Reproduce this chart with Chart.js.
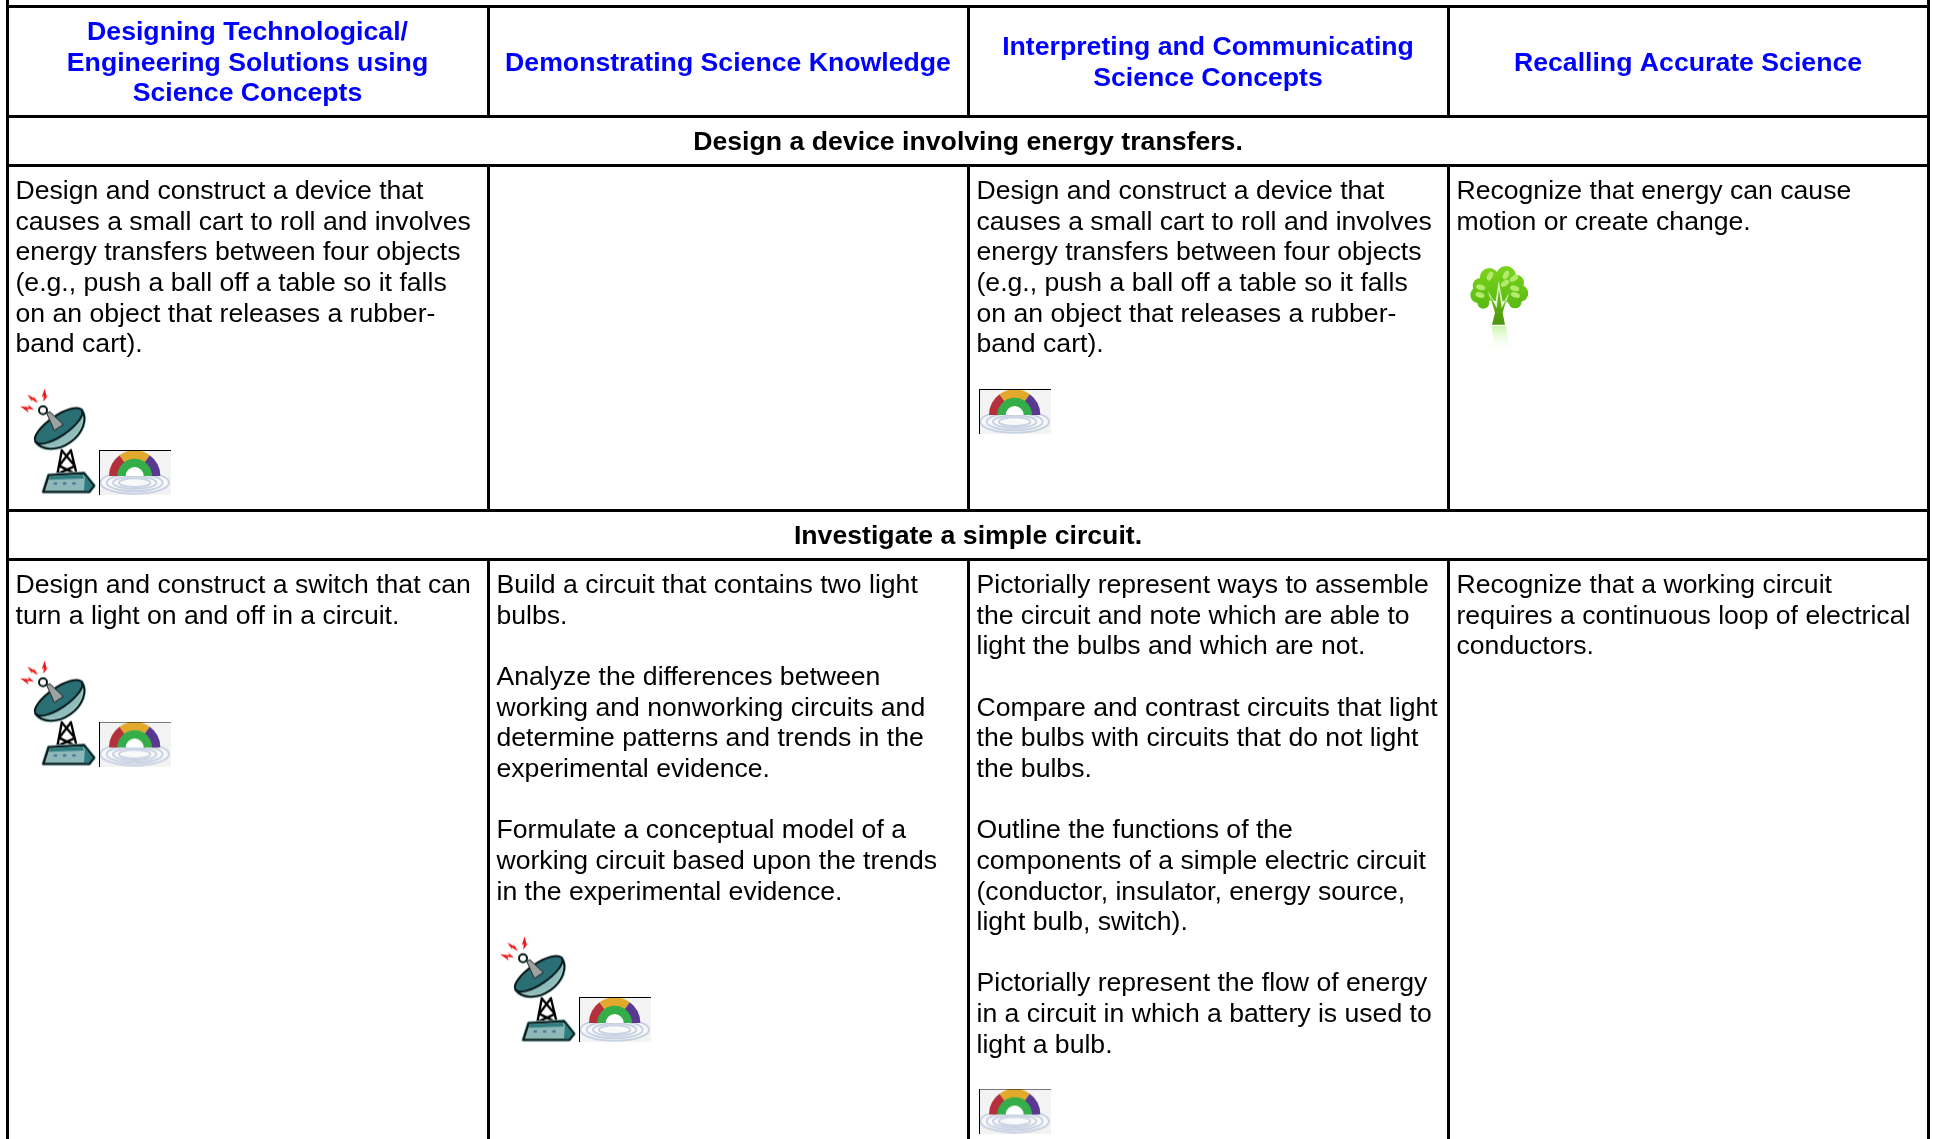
<!DOCTYPE html>
<html>
<head>
<meta charset="utf-8">
<title>Science concepts table</title>
<script src="https://cdn.jsdelivr.net/npm/chart.js@4"></script>
<style>
    html, body { margin: 0; padding: 0; background: #fff; overflow: hidden; }
    canvas { display: block; }
</style>
</head>
<body>
<canvas id="tableChart" width="1933" height="1139"></canvas>
<script>
const columnEdges = [7.5, 488.5, 968.5, 1448.5, 1928.5];
const rowEdges = [6.5, 116.5, 165.5, 510.5, 559.5];
const tableBottom = 1139;

const columnHeads = [
    ['Designing Technological/', 'Engineering Solutions using', 'Science Concepts'],
    ['Demonstrating Science Knowledge'],
    ['Interpreting and Communicating', 'Science Concepts'],
    ['Recalling Accurate Science']
];
const sectionTitles = ['Design a device involving energy transfers.', 'Investigate a simple circuit.'];

const deviceCells = [
    ['Design and construct a device that', 'causes a small cart to roll and involves', 'energy transfers between four objects', '(e.g., push a ball off a table so it falls', 'on an object that releases a rubber-', 'band cart).'],
    [],
    ['Design and construct a device that', 'causes a small cart to roll and involves', 'energy transfers between four objects', '(e.g., push a ball off a table so it falls', 'on an object that releases a rubber-', 'band cart).'],
    ['Recognize that energy can cause', 'motion or create change.']
];
const circuitCells = [
    ['Design and construct a switch that can', 'turn a light on and off in a circuit.'],
    ['Build a circuit that contains two light', 'bulbs.', '', 'Analyze the differences between', 'working and nonworking circuits and', 'determine patterns and trends in the', 'experimental evidence.', '', 'Formulate a conceptual model of a', 'working circuit based upon the trends', 'in the experimental evidence.'],
    ['Pictorially represent ways to assemble', 'the circuit and note which are able to', 'light the bulbs and which are not.', '', 'Compare and contrast circuits that light', 'the bulbs with circuits that do not light', 'the bulbs.', '', 'Outline the functions of the', 'components of a simple electric circuit', '(conductor, insulator, energy source,', 'light bulb, switch).', '', 'Pictorially represent the flow of energy', 'in a circuit in which a battery is used to', 'light a bulb.'],
    ['Recognize that a working circuit', 'requires a continuous loop of electrical', 'conductors.']
];

// icon centres, same units as the edges above
const dishSpots = [{x: 58, y: 441.5}, {x: 58, y: 713.5}, {x: 538, y: 989.5}];
const gaugeSpots = [{x: 135, y: 472.5}, {x: 1015, y: 411.5}, {x: 135, y: 744}, {x: 615, y: 1019.5}, {x: 1015, y: 1111}];
const treeSpots = [{x: 1499, y: 308.5}];

const lineHeight = 30.65;
const cellPad = 8;
const blue = '#0000ff';

function iconCanvas(w, h, draw) {
    const c = document.createElement('canvas');
    c.width = w;
    c.height = h;
    const ctx = c.getContext('2d');
    ctx.lineJoin = 'round';
    ctx.filter = 'blur(0.4px)';
    draw(ctx);
    return c;
}

function poly(ctx, pts, fill, stroke, width) {
    ctx.beginPath();
    pts.forEach((p, i) => i ? ctx.lineTo(p[0], p[1]) : ctx.moveTo(p[0], p[1]));
    ctx.closePath();
    if (fill) { ctx.fillStyle = fill; ctx.fill(); }
    if (stroke) { ctx.strokeStyle = stroke; ctx.lineWidth = width; ctx.stroke(); }
}

function drawDish(ctx) {
    ctx.scale(1 / 3, 1 / 3);
    ctx.translate(-60, -55);
    // sparks
    poly(ctx, [[82, 76], [104, 88], [100, 78], [114, 102], [94, 90], [98, 100]], '#f01818');
    poly(ctx, [[134, 58], [140, 82], [146, 76], [130, 98], [131, 80], [125, 84]], '#f01818');
    poly(ctx, [[60, 111], [88, 114], [84, 106], [102, 122], [82, 119], [86, 130]], '#f01818');
    // tower
    ctx.strokeStyle = '#000';
    ctx.lineWidth = 7;
    ctx.beginPath();
    ctx.moveTo(186, 240); ctx.lineTo(172, 315);
    ctx.moveTo(212, 240); ctx.lineTo(230, 315);
    ctx.moveTo(186, 245); ctx.lineTo(226, 292);
    ctx.moveTo(212, 245); ctx.lineTo(176, 292);
    ctx.moveTo(178, 290); ctx.lineTo(228, 315);
    ctx.moveTo(226, 290); ctx.lineTo(172, 315);
    ctx.stroke();
    // base
    poly(ctx, [[146, 318], [252, 312], [282, 350], [268, 368], [130, 368]], '#a9cfcd', '#a9cfcd', 12);
    poly(ctx, [[146, 318], [252, 312], [282, 350], [268, 368], [130, 368]], '#8dbab8', '#0b1f20', 7);
    poly(ctx, [[150, 322], [248, 316], [252, 328], [146, 332]], '#2f7c80');
    poly(ctx, [[255, 318], [278, 350], [266, 365], [252, 365]], '#2f7c80');
    [0, 1, 2].forEach(i => {
        ctx.fillStyle = '#54709a';
        ctx.beginPath();
        ctx.ellipse(166 + i * 28, 343, 6, 4, 0, 0, Math.PI * 2);
        ctx.fill();
    });
    // bowl
    ctx.save();
    ctx.translate(176, 170);
    ctx.rotate(-0.6);
    ctx.beginPath();
    ctx.ellipse(0, 0, 84, 60, 0, 0, Math.PI);
    ctx.closePath();
    ctx.fillStyle = '#8fbdbb';
    ctx.fill();
    ctx.lineWidth = 11;
    ctx.strokeStyle = '#b5d6d4';
    ctx.stroke();
    ctx.lineWidth = 6;
    ctx.strokeStyle = '#06181a';
    ctx.stroke();
    ctx.beginPath();
    ctx.ellipse(0, 0, 84, 30, 0, 0, Math.PI * 2);
    ctx.fillStyle = '#2b6f75';
    ctx.fill();
    ctx.stroke();
    ctx.restore();
    // arm and ball
    poly(ctx, [[140, 132], [150, 128], [190, 166], [163, 184]], '#9aa2a2', '#222', 3);
    ctx.beginPath();
    ctx.arc(129, 123, 12, 0, Math.PI * 2);
    ctx.fillStyle = '#fff';
    ctx.fill();
    ctx.lineWidth = 6;
    ctx.strokeStyle = '#06181a';
    ctx.stroke();
}

function drawGauge(ctx) {
    ctx.fillStyle = '#f3f3f3';
    ctx.fillRect(0, 0, 72, 45);
    ctx.save();
    ctx.scale(1 / 3, 1 / 3);
    ctx.translate(-298, -240);
    // ripples under the arch
    ctx.fillStyle = '#f9f9fb';
    ctx.beginPath();
    ctx.ellipse(405, 338, 106, 36, 0, 0, Math.PI * 2);
    ctx.fill();
    ctx.strokeStyle = '#c9d2e2';
    ctx.lineWidth = 6;
    [[103, 33], [84, 26], [65, 19], [47, 13]].forEach(r => {
        ctx.beginPath();
        ctx.ellipse(405, 338, r[0], r[1], 0, 0, Math.PI * 2);
        ctx.stroke();
    });
    const cx = 405, cy = 318;
    const slices = [['#b5303a', Math.PI, 1.3 * Math.PI], ['#e2a92c', 1.3 * Math.PI, 1.7 * Math.PI], ['#59398f', 1.7 * Math.PI, 2 * Math.PI]];
    slices.forEach(s => {
        ctx.beginPath();
        ctx.moveTo(cx, cy);
        ctx.arc(cx, cy, 77, s[1], s[2]);
        ctx.closePath();
        ctx.fillStyle = s[0];
        ctx.fill();
    });
    ctx.beginPath();
    ctx.arc(cx, cy, 52, Math.PI, 2 * Math.PI);
    ctx.closePath();
    ctx.fillStyle = '#35ae4a';
    ctx.fill();
    ctx.beginPath();
    ctx.arc(cx, cy, 27, Math.PI, 2 * Math.PI);
    ctx.closePath();
    ctx.fillStyle = '#fff';
    ctx.fill();
    ctx.restore();
    ctx.filter = 'none';
    ctx.fillStyle = '#000';
    ctx.fillRect(0, 0, 72, 1);
    ctx.fillRect(0, 0, 1, 45);
}

function drawTree(ctx) {
    ctx.scale(1 / 3, 1 / 3);
    ctx.translate(-90, -75);
    // reflection
    let g = ctx.createLinearGradient(0, 255, 0, 335);
    g.addColorStop(0, '#c4f5a4');
    g.addColorStop(1, 'rgba(255,255,255,0)');
    poly(ctx, [[155, 258], [198, 258], [205, 305], [225, 330], [135, 330], [160, 300]], g);
    // crown
    g = ctx.createLinearGradient(0, 75, 0, 215);
    g.addColorStop(0, '#7cd41e');
    g.addColorStop(1, '#55b80e');
    [[148, 112, 28], [198, 108, 30], [228, 128, 24], [122, 138, 24], [240, 160, 25], [115, 165, 24], [225, 185, 20], [130, 188, 18], [178, 145, 40], [150, 150, 32], [205, 155, 32]].forEach(b => {
        ctx.beginPath();
        ctx.arc(b[0], b[1], b[2], 0, Math.PI * 2);
        ctx.fillStyle = g;
        ctx.fill();
    });
    // branches and trunk
    poly(ctx, [[143, 152], [166, 190], [176, 122], [189, 190], [207, 158], [190, 215], [164, 215]], '#dcf2c2');
    g = ctx.createLinearGradient(0, 150, 0, 254);
    g.addColorStop(0, '#6cc018');
    g.addColorStop(1, '#4f9410');
    poly(ctx, [[150, 166], [170, 205], [177, 146], [185, 205], [199, 178], [188, 218], [195, 254], [156, 254], [165, 218]], g);
    [[150, 108, -1.1], [198, 105, -1.1], [222, 115, -0.6], [122, 142, 0.3], [120, 165, 0.3], [195, 130, -0.6], [224, 145, 0.3], [226, 165, 0.3]].forEach(l => {
        ctx.beginPath();
        ctx.ellipse(l[0], l[1], 14, 8, l[2], 0, Math.PI * 2);
        ctx.fillStyle = '#b4ea6c';
        ctx.fill();
    });
}

function rule(x1, y1, x2, y2) {
    return {
        showLine: true,
        data: [{x: x1, y: y1}, {x: x2, y: y2}],
        borderColor: '#000',
        borderWidth: 3,
        pointRadius: 0
    };
}

const left = columnEdges[0];
const right = columnEdges[4];
const rules = [];
rowEdges.forEach(y => rules.push(rule(left, y, right, y)));
rules.push(rule(left, 0, left, tableBottom));
rules.push(rule(right, 0, right, tableBottom));
columnEdges.slice(1, 4).forEach(x => {
    rules.push(rule(x, rowEdges[0], x, rowEdges[1]));
    rules.push(rule(x, rowEdges[2], x, rowEdges[3]));
    rules.push(rule(x, rowEdges[4], x, tableBottom));
});

function iconSet(spots, picture) {
    return {data: spots, pointStyle: picture, pointRadius: 10, showLine: false, clip: false};
}

const tableText = {
    id: 'tableText',
    afterDatasetsDraw(chart) {
        const ctx = chart.ctx;
        const xs = chart.scales.x;
        const ys = chart.scales.y;
        ctx.save();
        ctx.textBaseline = 'alphabetic';

        function centred(lines, x, mid) {
            ctx.textAlign = 'center';
            lines.forEach((line, i) => {
                const y = mid + 9 + (i - (lines.length - 1) / 2) * lineHeight;
                ctx.fillText(line, xs.getPixelForValue(x), ys.getPixelForValue(y));
            });
        }

        ctx.font = 'bold 26.67px "Liberation Sans", Arial, sans-serif';
        ctx.fillStyle = blue;
        columnHeads.forEach((lines, i) => {
            centred(lines, (columnEdges[i] + columnEdges[i + 1]) / 2 - 0.5, (rowEdges[0] + rowEdges[1]) / 2);
        });
        ctx.fillStyle = '#000';
        centred([sectionTitles[0]], (left + right) / 2, (rowEdges[1] + rowEdges[2]) / 2);
        centred([sectionTitles[1]], (left + right) / 2, (rowEdges[3] + rowEdges[4]) / 2);

        ctx.font = '26.6px "Liberation Sans", Arial, sans-serif';
        ctx.textAlign = 'left';
        [[deviceCells, rowEdges[2]], [circuitCells, rowEdges[4]]].forEach(row => {
            row[0].forEach((lines, col) => {
                lines.forEach((line, i) => {
                    const y = row[1] + 33.5 + i * lineHeight;
                    ctx.fillText(line, xs.getPixelForValue(columnEdges[col] + cellPad), ys.getPixelForValue(y));
                });
            });
        });
        ctx.restore();
    }
};

new Chart(document.getElementById('tableChart'), {
    type: 'scatter',
    data: {
        datasets: rules.concat([
            iconSet(dishSpots, iconCanvas(76, 108, drawDish)),
            iconSet(gaugeSpots, iconCanvas(72, 45, drawGauge)),
            iconSet(treeSpots, iconCanvas(58, 87, drawTree))
        ])
    },
    options: {
        responsive: false,
        animation: false,
        layout: {padding: 0, autoPadding: false},
        scales: {
            x: {type: 'linear', display: false, min: 0, max: 1933},
            y: {type: 'linear', display: false, min: 0, max: 1139, reverse: true}
        },
        plugins: {
            legend: {display: false},
            tooltip: {enabled: false}
        }
    },
    plugins: [tableText]
});
</script>
</body>
</html>
